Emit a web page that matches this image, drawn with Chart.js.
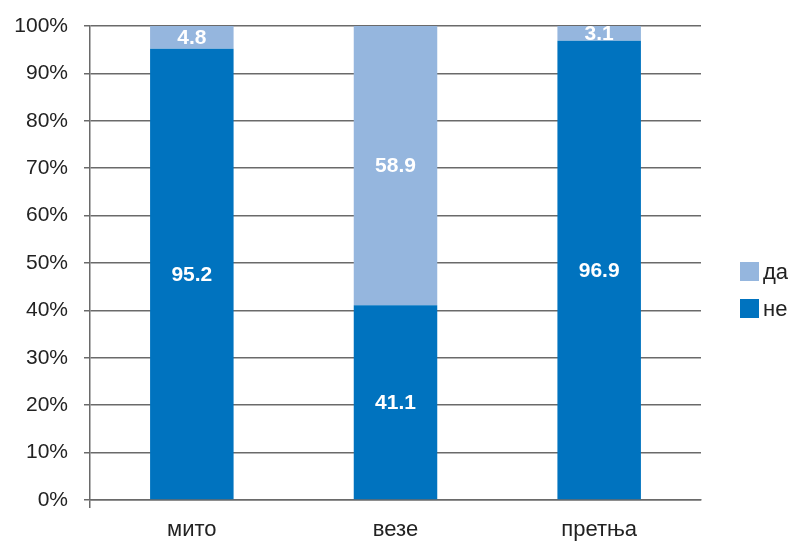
<!DOCTYPE html>
<html>
<head>
<meta charset="utf-8">
<script src="https://cdn.jsdelivr.net/npm/chart.js@4/dist/chart.umd.min.js"></script>
<style>
  html, body { margin: 0; padding: 0; background: #fff; }
  #wrap { width: 792px; height: 542px; position: relative; }
</style>
</head>
<body>
<div id="wrap"><canvas id="chart"></canvas></div>
<script>
// categories and values
const categories = ['мито', 'везе', 'претња'];
const neValues = [95.2, 41.1, 96.9];
const daValues = [4.8, 58.9, 3.1];
const yTicks = [0, 10, 20, 30, 40, 50, 60, 70, 80, 90, 100];

const FONT = '"Liberation Sans", Arial, sans-serif';
const GRID = '#6a6a6a';

// white numbers in the middle of each segment
const segmentLabels = {
  id: 'segmentLabels',
  afterDatasetsDraw(chart) {
    const ctx = chart.ctx;
    ctx.save();
    ctx.fillStyle = '#fff';
    ctx.font = 'bold 21px ' + FONT;
    ctx.textAlign = 'center';
    ctx.textBaseline = 'middle';
    chart.data.datasets.forEach((ds, i) => {
      chart.getDatasetMeta(i).data.forEach((bar, j) => {
        const p = bar.getProps(['x', 'y', 'base'], true);
        ctx.fillText(ds.data[j].toFixed(1), p.x, (p.y + p.base) / 2 + 1);
      });
    });
    ctx.restore();
  }
};

// legend on the right, top item first
const sideLegend = {
  id: 'sideLegend',
  afterDraw(chart) {
    const ctx = chart.ctx;
    const items = chart.data.datasets.slice().reverse();
    ctx.save();
    ctx.font = '22px ' + FONT;
    ctx.textBaseline = 'middle';
    items.forEach((ds, k) => {
      const cy = 272 + k * 37;
      ctx.fillStyle = ds.backgroundColor;
      ctx.fillRect(740, cy - 10, 19, 19);
      ctx.fillStyle = '#222';
      ctx.fillText(ds.label, 763, cy + 1);
    });
    ctx.restore();
  }
};

new Chart(document.getElementById('chart'), {
  type: 'bar',
  data: {
    labels: categories,
    datasets: [
      { label: 'не', data: neValues, backgroundColor: '#0073BF' },
      { label: 'да', data: daValues, backgroundColor: '#95B6DE' }
    ]
  },
  options: {
    responsive: true,
    maintainAspectRatio: false,
    animation: false,
    layout: { padding: { top: 26, right: 91, left: 0, bottom: 0 } },
    datasets: { bar: { categoryPercentage: 1, barPercentage: 0.41 } },
    plugins: {
      legend: { display: false },
      tooltip: { enabled: false }
    },
    scales: {
      x: {
        stacked: true,
        afterFit: s => { s.height = 42; s.paddingLeft = 0; s.paddingRight = 0; },
        grid: {
          drawOnChartArea: false,
          drawTicks: true,
          tickLength: 8,
          lineWidth: 1.5,
          color: c => c.index === 0 ? GRID : 'rgba(0,0,0,0)'
        },
        border: { display: true, color: GRID, width: 1.5 },
        ticks: { color: '#222', font: { family: FONT, size: 22 }, padding: 9 }
      },
      y: {
        stacked: true,
        min: 0,
        max: 100,
        afterFit: s => { s.width = 90; s.paddingTop = 0; s.paddingBottom = 0; },
        afterBuildTicks: s => { s.ticks = yTicks.map(v => ({ value: v })); },
        grid: { color: GRID, lineWidth: 1.5, tickLength: 6 },
        border: { display: true, color: GRID, width: 1.5 },
        ticks: {
          color: '#222',
          font: { family: FONT, size: 21 },
          padding: 16,
          callback: v => v + '%'
        }
      }
    }
  },
  plugins: [segmentLabels, sideLegend]
});
</script>
</body>
</html>
